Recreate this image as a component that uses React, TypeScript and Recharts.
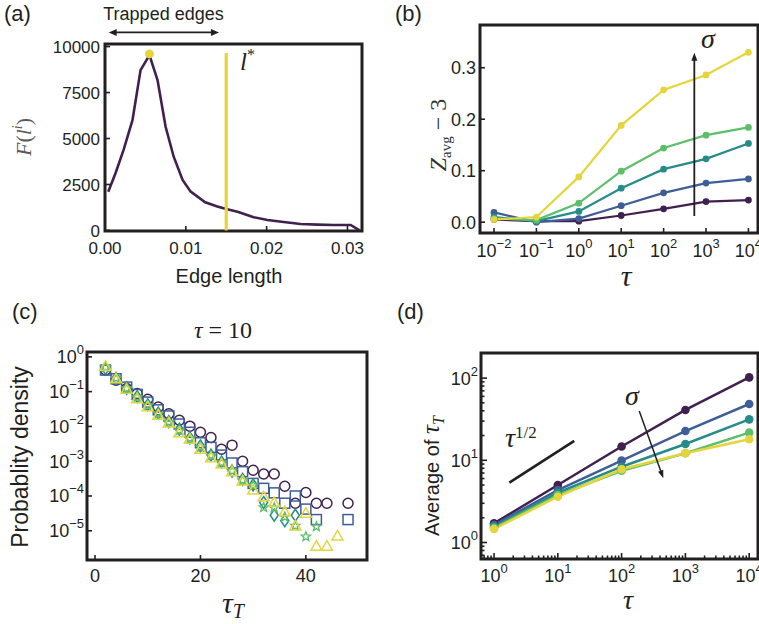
import React from 'react';
import {
  LineChart, Line, XAxis, YAxis, ReferenceArea, ReferenceLine, ReferenceDot,
  ScatterChart, Scatter,
} from 'recharts';

const FRAME = '#231f20';
const TXT = '#231f20';
const SANS = '"Liberation Sans", Arial, Helvetica, sans-serif';
const SERIF = '"Liberation Serif", "Times New Roman", serif';

const C_PURPLE = '#40204f';
const C_BLUE = '#3f5e97';
const C_TEAL = '#278b89';
const C_GREEN = '#5cbf6a';
const C_YELLOW = '#e5d53c';

// ---------------- Panel (a) ----------------
const edgeLength = [0.0004, 0.0013, 0.0023, 0.0034, 0.0044, 0.0055, 0.0065, 0.0075, 0.0085, 0.0096, 0.0106, 0.0124, 0.0139, 0.015, 0.0164, 0.0184, 0.0201, 0.0221, 0.0242, 0.0263, 0.0283, 0.0304, 0.0315];
const edgeFreq = [2110, 3110, 4380, 6000, 8720, 9540, 8180, 5640, 4010, 2750, 2110, 1530, 1300, 1170, 1020, 720, 570, 460, 350, 315, 300, 300, 0];
const aXTicks = [0, 0.01, 0.02, 0.03];
const aYTicks = [0, 2500, 5000, 7500, 10000];
const lStar = 0.015;
const lStarTop = 9650;
const peakLength = 0.0055;
const peakFreq = 9600;
const trappedFrom = 0.00046;
const trappedTo = 0.0141;
const trappedLevel = 10770;

// ---------------- Panel (b) ----------------
const tauB = [0.01, 0.1, 1, 10, 100, 1000, 10000];
const zPurple = [0.005, 0.002, 0.002, 0.013, 0.026, 0.040, 0.043];
const zBlue = [0.019, 0.000, 0.007, 0.032, 0.057, 0.076, 0.084];
const zTeal = [0.010, 0.002, 0.021, 0.066, 0.103, 0.123, 0.153];
const zGreen = [0.007, 0.004, 0.037, 0.099, 0.144, 0.169, 0.184];
const zYellow = [0.005, 0.010, 0.088, 0.188, 0.257, 0.286, 0.330];
const bXTicks = [0.01, 0.1, 1, 10, 100, 1000, 10000];
const bYTicks = [0, 0.1, 0.2, 0.3];
const bArrowTau = 530;
const bArrowFrom = 0.012;
const bArrowTo = 0.329;

// ---------------- Panel (c) ----------------
const tauT = [2, 4, 6, 8, 10, 12, 14, 16, 18, 20, 22, 24, 26, 28, 30, 32, 34, 36, 38, 40, 42, 44, 46, 48];
const pCircle = [0.42, 0.214, 0.123, 0.089, 0.060, 0.036, 0.023, 0.015, 0.0102, 0.0068, 0.0048, 0.0022, 0.0029, 0.0010, 5.5e-4, 4.3e-4, 4.3e-4, 1.9e-4, 6.2e-5, 1.26e-4, 6.2e-5, 6.2e-5, null, 6.2e-5];
const pSquare = [0.417, 0.234, 0.135, 0.083, 0.050, 0.030, 0.020, 0.0117, 0.0068, 0.0034, 0.0025, 0.0015, 8.9e-4, 5.0e-4, 2.3e-4, 1.66e-4, 1.23e-4, 6.2e-5, 1.0e-4, 4.2e-5, 2.1e-5, null, null, 2.1e-5];
const pDiamond = [0.468, 0.24, 0.126, 0.072, 0.042, 0.024, 0.0138, 0.0083, 0.0047, 0.00275, 0.0015, 9.5e-4, 5.2e-4, 3.0e-4, 2.1e-4, 6.5e-5, 2.8e-5, 1.95e-5, 2.8e-5, null, null, null, null, null];
const pStar = [0.50, 0.24, 0.123, 0.069, 0.040, 0.023, 0.0132, 0.0076, 0.0045, 0.0025, 0.00145, 9.1e-4, 5.2e-4, 2.8e-4, 2.0e-4, 4.7e-5, 4.6e-5, 2.5e-5, 1.38e-5, 6.8e-6, 1.32e-5, null, null, null];
const pTriangle = [0.54, 0.234, 0.117, 0.063, 0.037, 0.021, 0.0126, 0.0066, 0.0043, 0.0022, 0.00126, 8.3e-4, 5.0e-4, 2.7e-4, 1.48e-4, 9.5e-5, 6.5e-5, 3.5e-5, 1.38e-5, 3.2e-5, 3.6e-6, 3.6e-6, 7.1e-6, null];
const cXTicks = [0, 20, 40];
const cYTicks = [1, 0.1, 0.01, 0.001, 1e-4, 1e-5];

// ---------------- Panel (d) ----------------
const tauD = [1, 10, 100, 1000, 10000];
const avgPurple = [1.71, 5.0, 14.7, 41, 102];
const avgBlue = [1.63, 4.35, 9.9, 22.7, 48.4];
const avgTeal = [1.56, 4.03, 8.36, 15.8, 31.5];
const avgGreen = [1.51, 3.78, 7.47, 12.2, 21.7];
const avgYellow = [1.46, 3.61, 7.78, 12.2, 18.0];
const dXMajor = [1, 10, 100, 1000, 10000];
const dXMinor = [0.7, 0.8, 0.9, 2, 3, 4, 5, 6, 7, 8, 9, 20, 30, 40, 50, 60, 70, 80, 90, 200, 300, 400, 500, 600, 700, 800, 900, 2000, 3000, 4000, 5000, 6000, 7000, 8000, 9000];
const dYMajor = [1, 10, 100];
const dYMinor = [0.7, 0.8, 0.9, 2, 3, 4, 5, 6, 7, 8, 9, 20, 30, 40, 50, 60, 70, 80, 90];
const sqrtFrom = { x: 1.74, y: 5.34 };
const sqrtTo = { x: 18.1, y: 17.2 };
const dArrowFrom = { x: 189, y: 39.8 };
const dArrowTo = { x: 451, y: 6.04 };

// ---------------- helpers ----------------
type Lab = { base: string; exp?: string } | null;
interface TickCfg { fs: number; gap: number; len: number; minorLen?: number; label: (v: number) => Lab; }

const pow10 = (v: number): Lab => {
  const e = Math.round(Math.log10(v));
  return { base: '10', exp: e < 0 ? '\u2212' + String(-e) : String(e) };
};

const bottomTick = (c: TickCfg) => (p: any) => {
  const { x, y, payload } = p;
  const lab = c.label(payload.value);
  const len = lab ? c.len : (c.minorLen ?? 0);
  return (
    <g>
      <line x1={x} x2={x} y1={y} y2={y - len} stroke={FRAME} strokeWidth={1.6} />
      {lab && (
        <text x={x} y={y + c.gap} textAnchor="middle" fontSize={c.fs} fontFamily={SANS} fill={TXT}>
          {lab.base}
          {lab.exp && <tspan dy={-c.fs * 0.5} fontSize={c.fs * 0.72}>{lab.exp}</tspan>}
        </text>
      )}
    </g>
  );
};

const leftTick = (c: TickCfg) => (p: any) => {
  const { x, y, payload } = p;
  const lab = c.label(payload.value);
  const len = lab ? c.len : (c.minorLen ?? 0);
  return (
    <g>
      <line x1={x} x2={x + len} y1={y} y2={y} stroke={FRAME} strokeWidth={1.6} />
      {lab && (
        <text x={x - c.gap} y={y + c.fs * 0.36} textAnchor="end" fontSize={c.fs} fontFamily={SANS} fill={TXT}>
          {lab.base}
          {lab.exp && <tspan dy={-c.fs * 0.5} fontSize={c.fs * 0.72}>{lab.exp}</tspan>}
        </text>
      )}
    </g>
  );
};

const arrowShape = (both: boolean, sw: number, hl: number, hw: number) => (p: any) => {
  const { x1, y1, x2, y2 } = p;
  const dx = x2 - x1;
  const dy = y2 - y1;
  const L = Math.hypot(dx, dy) || 1;
  const ux = dx / L;
  const uy = dy / L;
  const head = (tx: number, ty: number, vx: number, vy: number) => {
    const bx = tx - vx * hl;
    const by = ty - vy * hl;
    const px = -vy;
    const py = vx;
    return `${tx},${ty} ${bx + px * hw / 2},${by + py * hw / 2} ${bx - px * hw / 2},${by - py * hw / 2}`;
  };
  return (
    <g>
      <line
        x1={both ? x1 + ux * hl * 0.8 : x1}
        y1={both ? y1 + uy * hl * 0.8 : y1}
        x2={x2 - ux * hl * 0.8}
        y2={y2 - uy * hl * 0.8}
        stroke={FRAME}
        strokeWidth={sw}
      />
      <polygon points={head(x2, y2, ux, uy)} fill={FRAME} />
      {both && <polygon points={head(x1, y1, -ux, -uy)} fill={FRAME} />}
    </g>
  );
};

const plainLine = (sw: number) => (p: any) => (
  <line x1={p.x1} y1={p.y1} x2={p.x2} y2={p.y2} stroke={FRAME} strokeWidth={sw} />
);

const panelStyle = (left: number, top: number, w: number, h: number): React.CSSProperties => ({
  position: 'absolute', left, top, width: w, height: h,
});
const overlayStyle: React.CSSProperties = {
  position: 'absolute', left: 0, top: 0, overflow: 'visible', pointerEvents: 'none',
};

// ---------------- Panel components ----------------
const A_X: [number, number] = [0, 0.0318];
const A_Y: [number, number] = [-30, 10140];

function PanelA() {
  const data = edgeLength.map((l, i) => ({ l, f: edgeFreq[i] }));
  return (
    <div style={panelStyle(0, 0, 380, 300)}>
      <LineChart width={380} height={300} data={data} margin={{ top: 44, right: 18, left: 104, bottom: 68 }}>
        <XAxis dataKey="l" type="number" domain={A_X} allowDataOverflow ticks={aXTicks} interval={0}
          height={1} axisLine={false} tickLine={false} tickSize={0} tickMargin={0}
          tick={bottomTick({ fs: 17, gap: 23, len: 5, label: (v) => ({ base: v.toFixed(2) }) })} />
        <YAxis type="number" domain={A_Y} allowDataOverflow ticks={aYTicks} interval={0}
          width={1} axisLine={false} tickLine={false} tickSize={0} tickMargin={0}
          tick={leftTick({ fs: 17, gap: 5, len: 5, label: (v) => ({ base: String(v) }) })} />
        <Line dataKey="f" stroke={C_PURPLE} strokeWidth={2.6} dot={false} activeDot={false} isAnimationActive={false} />
        <ReferenceLine segment={[{ x: lStar, y: 0 }, { x: lStar, y: lStarTop }]} stroke={C_YELLOW} strokeWidth={3.2} ifOverflow="visible" />
        <ReferenceDot x={peakLength} y={peakFreq} r={4.5} fill={C_YELLOW} stroke="none" ifOverflow="visible" />
        <ReferenceLine segment={[{ x: trappedFrom, y: trappedLevel }, { x: trappedTo, y: trappedLevel }]} ifOverflow="visible"
          shape={arrowShape(true, 1.8, 8, 7)} />
        <ReferenceArea x1={A_X[0]} x2={A_X[1]} y1={A_Y[0]} y2={A_Y[1]} fill="none" fillOpacity={0} stroke={FRAME} strokeWidth={3} ifOverflow="visible" />
      </LineChart>
      <svg width={380} height={300} style={overlayStyle}>
        <text x={4} y={20.5} fontSize={22} fontFamily={SANS} fill={TXT}>(a)</text>
        <text x={163.5} y={20} textAnchor="middle" fontSize={18} fontFamily={SANS} fill={TXT}>Trapped edges</text>
        <text x={240} y={70} fontSize={25} fontFamily={SERIF} fill={TXT}>
          <tspan fontStyle="italic">l</tspan>
          <tspan fontSize={16} dy={-10}>*</tspan>
        </text>
        <text x={229} y={282.5} textAnchor="middle" fontSize={20} fontFamily={SANS} fill={TXT}>Edge length</text>
        <text transform="translate(31,137) rotate(-90)" textAnchor="middle" fontSize={22} fontFamily={SERIF} fill="#5a5a5a">
          <tspan fontStyle="italic">F</tspan>
          <tspan>(</tspan>
          <tspan fontStyle="italic">l</tspan>
          <tspan fontStyle="italic" fontSize={14} dy={-9}>i</tspan>
          <tspan dy={9}>)</tspan>
        </text>
      </svg>
    </div>
  );
}

const B_X: [number, number] = [0.004677, 16830];
const B_Y: [number, number] = [-0.021, 0.383];

function PanelB() {
  const data = tauB.map((t, i) => ({ t, p: zPurple[i], b: zBlue[i], te: zTeal[i], g: zGreen[i], y: zYellow[i] }));
  const series: [string, string][] = [['p', C_PURPLE], ['b', C_BLUE], ['te', C_TEAL], ['g', C_GREEN], ['y', C_YELLOW]];
  return (
    <div style={panelStyle(380, 0, 379, 300)}>
      <LineChart width={379} height={300} data={data} margin={{ top: 25, right: 1, left: 99, bottom: 66 }}>
        <XAxis dataKey="t" type="number" scale="log" domain={B_X} allowDataOverflow ticks={bXTicks} interval={0}
          height={1} axisLine={false} tickLine={false} tickSize={0} tickMargin={0}
          tick={bottomTick({ fs: 18, gap: 23.5, len: 5, label: pow10 })} />
        <YAxis type="number" domain={B_Y} allowDataOverflow ticks={bYTicks} interval={0}
          width={1} axisLine={false} tickLine={false} tickSize={0} tickMargin={0}
          tick={leftTick({ fs: 18, gap: 4, len: 5, label: (v) => ({ base: v.toFixed(1) }) })} />
        {series.map(([k, c]) => (
          <Line key={k} dataKey={k} stroke={c} strokeWidth={2.2} dot={{ r: 3.4, fill: c, stroke: c, strokeWidth: 0 }}
            activeDot={false} isAnimationActive={false} />
        ))}
        <ReferenceLine segment={[{ x: bArrowTau, y: bArrowFrom }, { x: bArrowTau, y: bArrowTo }]} ifOverflow="visible"
          shape={arrowShape(false, 1.8, 8, 6)} />
        <ReferenceArea x1={B_X[0]} x2={B_X[1]} y1={B_Y[0]} y2={B_Y[1]} fill="none" fillOpacity={0} stroke={FRAME} strokeWidth={3} ifOverflow="visible" />
      </LineChart>
      <svg width={379} height={300} style={overlayStyle}>
        <text x={15} y={20.5} fontSize={22} fontFamily={SANS} fill={TXT}>(b)</text>
        <text x={328} y={48} textAnchor="middle" fontSize={28} fontStyle="italic" fontFamily={SERIF} fill={TXT}>σ</text>
        <text x={246} y={286} textAnchor="middle" fontSize={30} fontStyle="italic" fontFamily={SERIF} fill={TXT}>τ</text>
        <text transform="translate(66,135) rotate(-90)" textAnchor="middle" fontSize={24} fontFamily={SERIF} fill="#333">
          <tspan fontStyle="italic">Z</tspan>
          <tspan fontSize={15} dy={5}>avg</tspan>
          <tspan dy={-5}> − 3</tspan>
        </text>
      </svg>
    </div>
  );
}

const C_X: [number, number] = [-1.52, 51.6];
const C_Y: [number, number] = [1.445e-6, 1.38];

const circleShape = (p: any) => <circle cx={p.cx} cy={p.cy} r={5} fill="none" stroke={C_PURPLE} strokeWidth={1.5} />;
const squareShape = (p: any) => <rect x={p.cx - 5} y={p.cy - 5} width={10} height={10} fill="none" stroke={C_BLUE} strokeWidth={1.5} />;
const diamondShape = (p: any) => (
  <polygon points={`${p.cx},${p.cy - 6} ${p.cx + 4},${p.cy} ${p.cx},${p.cy + 6} ${p.cx - 4},${p.cy}`} fill="none" stroke={C_TEAL} strokeWidth={1.5} />
);
const starShape = (p: any) => {
  const pts: string[] = [];
  for (let i = 0; i < 10; i++) {
    const r = i % 2 === 0 ? 4.8 : 2.1;
    const a = -Math.PI / 2 + (i * Math.PI) / 5;
    pts.push(`${p.cx + r * Math.cos(a)},${p.cy + r * Math.sin(a)}`);
  }
  return <polygon points={pts.join(' ')} fill="none" stroke={C_GREEN} strokeWidth={1.4} />;
};
const triangleShape = (p: any) => (
  <polygon points={`${p.cx},${p.cy - 5.5} ${p.cx + 5.5},${p.cy + 4} ${p.cx - 5.5},${p.cy + 4}`} fill="none" stroke={C_YELLOW} strokeWidth={1.5} />
);

function PanelC() {
  const mk = (arr: (number | null)[]) => tauT.map((x, i) => ({ x, y: arr[i] })).filter((d) => d.y != null);
  const series: [string, (number | null)[], (p: any) => React.ReactElement][] = [
    ['circle', pCircle, circleShape],
    ['square', pSquare, squareShape],
    ['diamond', pDiamond, diamondShape],
    ['star', pStar, starShape],
    ['triangle', pTriangle, triangleShape],
  ];
  return (
    <div style={panelStyle(0, 300, 380, 324)}>
      <ScatterChart width={380} height={324} margin={{ top: 52, right: 13, left: 86, bottom: 63 }}>
        <XAxis dataKey="x" type="number" domain={C_X} allowDataOverflow ticks={cXTicks} interval={0}
          height={1} axisLine={false} tickLine={false} tickSize={0} tickMargin={0}
          tick={bottomTick({ fs: 18, gap: 21.5, len: 5, label: (v) => ({ base: String(v) }) })} />
        <YAxis dataKey="y" type="number" scale="log" domain={C_Y} allowDataOverflow ticks={cYTicks} interval={0}
          width={1} axisLine={false} tickLine={false} tickSize={0} tickMargin={0}
          tick={leftTick({ fs: 18, gap: 3, len: 5, label: pow10 })} />
        {series.map(([k, arr, shape]) => (
          <Scatter key={k} data={mk(arr)} shape={shape} isAnimationActive={false} />
        ))}
        <ReferenceArea x1={C_X[0]} x2={C_X[1]} y1={C_Y[0]} y2={C_Y[1]} fill="none" fillOpacity={0} stroke={FRAME} strokeWidth={3} ifOverflow="visible" />
      </ScatterChart>
      <svg width={380} height={324} style={overlayStyle}>
        <text x={12} y={18.5} fontSize={22} fontFamily={SANS} fill={TXT}>(c)</text>
        <text x={223} y={38} textAnchor="middle" fontSize={24} fontFamily={SERIF} fill={TXT}>
          <tspan fontStyle="italic">τ</tspan>
          <tspan> = 10</tspan>
        </text>
        <text transform="translate(28,157) rotate(-90)" textAnchor="middle" fontSize={23} fontFamily={SANS} fill={TXT}>Probablity density</text>
        <text x={233} y={313} textAnchor="middle" fontSize={30} fontStyle="italic" fontFamily={SERIF} fill={TXT}>
          <tspan>τ</tspan>
          <tspan fontSize={20} dy={5}>T</tspan>
        </text>
      </svg>
    </div>
  );
}

const D_X: [number, number] = [0.625, 13740];
const D_Y: [number, number] = [0.63, 202];

function PanelD() {
  const data = tauD.map((t, i) => ({ t, p: avgPurple[i], b: avgBlue[i], te: avgTeal[i], g: avgGreen[i], y: avgYellow[i] }));
  const series: [string, string][] = [['p', C_PURPLE], ['b', C_BLUE], ['te', C_TEAL], ['g', C_GREEN], ['y', C_YELLOW]];
  const xTicks = [...dXMajor, ...dXMinor];
  const yTicks = [...dYMajor, ...dYMinor];
  return (
    <div style={panelStyle(380, 300, 379, 324)}>
      <LineChart width={379} height={324} data={data} margin={{ top: 53, right: 1, left: 100, bottom: 64 }}>
        <XAxis dataKey="t" type="number" scale="log" domain={D_X} allowDataOverflow ticks={xTicks} interval={0}
          height={1} axisLine={false} tickLine={false} tickSize={0} tickMargin={0}
          tick={bottomTick({ fs: 18, gap: 23, len: 6, minorLen: 3.5, label: (v) => (dXMajor.includes(v) ? pow10(v) : null) })} />
        <YAxis type="number" scale="log" domain={D_Y} allowDataOverflow ticks={yTicks} interval={0}
          width={1} axisLine={false} tickLine={false} tickSize={0} tickMargin={0}
          tick={leftTick({ fs: 18, gap: 3, len: 6, minorLen: 3.5, label: (v) => (dYMajor.includes(v) ? pow10(v) : null) })} />
        {series.map(([k, c]) => (
          <Line key={k} dataKey={k} stroke={c} strokeWidth={2.5} dot={{ r: 4.3, fill: c, stroke: c, strokeWidth: 0 }}
            activeDot={false} isAnimationActive={false} />
        ))}
        <ReferenceLine segment={[sqrtFrom, sqrtTo]} ifOverflow="visible" shape={plainLine(2.6)} />
        <ReferenceLine segment={[dArrowFrom, dArrowTo]} ifOverflow="visible" shape={arrowShape(false, 1.5, 8, 5.5)} />
        <ReferenceArea x1={D_X[0]} x2={D_X[1]} y1={D_Y[0]} y2={D_Y[1]} fill="none" fillOpacity={0} stroke={FRAME} strokeWidth={3} ifOverflow="visible" />
      </LineChart>
      <svg width={379} height={324} style={overlayStyle}>
        <text x={17} y={18.5} fontSize={22} fontFamily={SANS} fill={TXT}>(d)</text>
        <text x={252} y={105} textAnchor="middle" fontSize={28} fontStyle="italic" fontFamily={SERIF} fill={TXT}>σ</text>
        <text x={125} y={147} fontSize={28} fontFamily={SERIF} fill={TXT}>
          <tspan fontStyle="italic">τ</tspan>
          <tspan fontSize={17} dy={-9}>1/2</tspan>
        </text>
        <text x={248} y={309} textAnchor="middle" fontSize={28} fontStyle="italic" fontFamily={SERIF} fill={TXT}>τ</text>
        <text transform="translate(59,176) rotate(-90)" textAnchor="middle" fontSize={20} fontFamily={SANS} fill={TXT}>
          <tspan>Average of </tspan>
          <tspan fontFamily={SERIF} fontStyle="italic" fontSize={25}>τ</tspan>
          <tspan fontFamily={SERIF} fontStyle="italic" fontSize={16} dy={5}>T</tspan>
        </text>
      </svg>
    </div>
  );
}

export default function App() {
  return (
    <div style={{ position: 'absolute', left: 0, top: 0, width: 759, height: 624, background: '#fff', overflow: 'hidden' }}>
      <PanelA />
      <PanelB />
      <PanelC />
      <PanelD />
    </div>
  );
}
